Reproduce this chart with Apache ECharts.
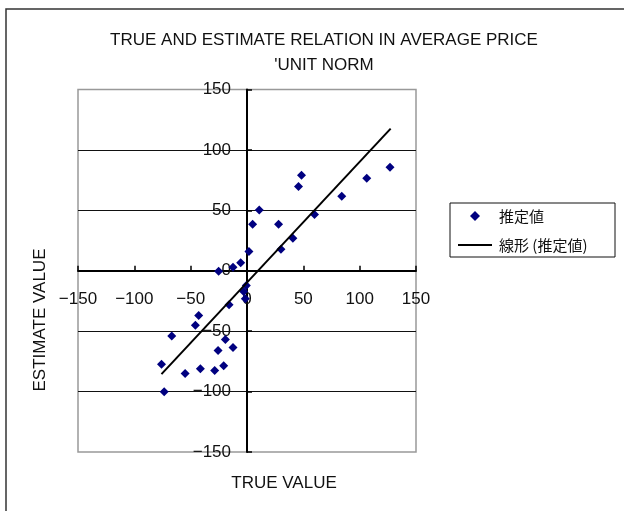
<!DOCTYPE html>
<html>
<head>
<meta charset="utf-8">
<script src="https://cdn.jsdelivr.net/npm/echarts@6/dist/echarts.min.js"></script>
<style>
  html, body { margin: 0; padding: 0; background: #fff; }
  #main { width: 624px; height: 511px; }
</style>
</head>
<body>
<div id="main"></div>
<script>
// true value vs estimated value
var trueValues = [-25.2, -12.4, -5.6, 1.7, 5.0, 10.9, 28.0, 30.1, 40.7, 45.7, 48.4, 59.9, 84.1, 106.3, 126.9,
                  -0.6, -3.0, -1.5, -15.9, -42.9, -45.8, -66.8, -19.2, -12.4, -25.7, -75.9, -20.7, -41.4, -28.7, -54.9, -73.5];
var estimateValues = [-0.5, 2.8, 6.6, 16.0, 38.4, 50.3, 38.4, 17.7, 26.8, 69.8, 79.0, 46.6, 61.6, 76.5, 85.6,
                      -12.2, -17.1, -23.2, -28.2, -37.0, -45.0, -54.1, -56.9, -63.5, -66.0, -77.3, -78.7, -81.2, -82.6, -85.1, -100.2];
// trendline end points (Excel linear trendline)
var trendX = [-75.9, 127.5];
var trendY = [-85.6, 117.6];
var axisTicks = [-150, 150, 50];

var font = '"Liberation Sans", "Noto Sans CJK JP", sans-serif';

var points = trueValues.map(function (x, i) { return [x, estimateValues[i]]; });
var trend = trendX.map(function (x, i) { return [x, trendY[i]]; });

function minus(v) { return String(v).replace('-', '\u2212'); }

// plot box
var gl = 78, gt = 89.5, gw = 338, gh = 362.5;
// move axes onto the zero lines (labels move with them)
var xOff = -gh * (0 - axisTicks[0]) / (axisTicks[1] - axisTicks[0]);
var yOff = -gw * (0 - axisTicks[0]) / (axisTicks[1] - axisTicks[0]);

var myChart = echarts.init(document.getElementById('main'));

var option = {
  animation: false,
  backgroundColor: '#fff',
  title: {
    text: 'TRUE AND ESTIMATE RELATION IN AVERAGE PRICE\n\'UNIT NORM',
    left: 324,
    top: 28,
    textAlign: 'center',
    padding: 0,
    textStyle: { fontFamily: font, fontSize: 17, fontWeight: 'normal', color: '#111', lineHeight: 25 }
  },
  grid: {
    left: gl, top: gt, width: gw, height: gh,
    show: true, borderColor: '#999', borderWidth: 1.5, backgroundColor: '#fff'
  },
  xAxis: {
    type: 'value',
    min: axisTicks[0], max: axisTicks[1], interval: axisTicks[2],
    offset: xOff,
    axisLine: { onZero: false, lineStyle: { color: '#000', width: 2 } },
    axisTick: { inside: true, length: 5, lineStyle: { color: '#000', width: 1.5 } },
    axisLabel: { margin: 20, fontFamily: font, fontSize: 17, color: '#111', formatter: minus, showMinLabel: true, showMaxLabel: true },
    splitLine: { show: false }
  },
  yAxis: {
    type: 'value',
    min: axisTicks[0], max: axisTicks[1], interval: axisTicks[2],
    offset: yOff,
    axisLine: { onZero: false, lineStyle: { color: '#000', width: 2 } },
    axisTick: { inside: true, length: 5, lineStyle: { color: '#000', width: 1.5 } },
    axisLabel: { margin: 16, fontFamily: font, fontSize: 17, color: '#111', formatter: minus, showMinLabel: true, showMaxLabel: true },
    splitLine: { show: true, showMinLine: false, showMaxLine: false, lineStyle: { color: '#111', width: 1.2 } }
  },
  legend: {
    orient: 'vertical',
    left: 458, top: 208,
    padding: 0,
    itemWidth: 34, itemHeight: 10,
    itemGap: 13,
    textStyle: { fontFamily: '"Noto Sans CJK JP", sans-serif', fontSize: 15, color: '#111', lineHeight: 16, padding: [0, 0, 0, 2] },
    data: [
      { name: '推定値', icon: 'path://M5,0 L10,5 L5,10 L0,5 Z', itemStyle: { color: '#000080' } },
      { name: '線形 (推定値)', icon: 'path://M0,0 H34 V2 H0 Z', itemStyle: { color: '#000' } }
    ]
  },
  graphic: [
    { type: 'rect', shape: { x: 6, y: 9, width: 700, height: 600 }, style: { fill: null, stroke: '#333', lineWidth: 1.5 }, silent: true },
    { type: 'rect', shape: { x: 450, y: 203, width: 165, height: 54 }, style: { fill: null, stroke: '#111', lineWidth: 1 }, silent: true },
    { type: 'text', x: 284, y: 483, style: { text: 'TRUE VALUE', fontFamily: font, fontSize: 17, fill: '#111', align: 'center', verticalAlign: 'middle' } },
    { type: 'text', x: 40, y: 320, rotation: Math.PI / 2, style: { text: 'ESTIMATE VALUE', fontFamily: font, fontSize: 17, fill: '#111', align: 'center', verticalAlign: 'middle' } }
  ],
  series: [
    {
      name: '推定値',
      type: 'scatter',
      symbol: 'diamond',
      symbolSize: 9,
      itemStyle: { color: '#000080', opacity: 1 },
      data: points,
      z: 3
    },
    {
      name: '線形 (推定値)',
      type: 'line',
      symbol: 'none',
      lineStyle: { color: '#000', width: 2 },
      itemStyle: { color: '#000' },
      data: trend,
      z: 4
    }
  ]
};

myChart.setOption(option);
</script>
</body>
</html>
